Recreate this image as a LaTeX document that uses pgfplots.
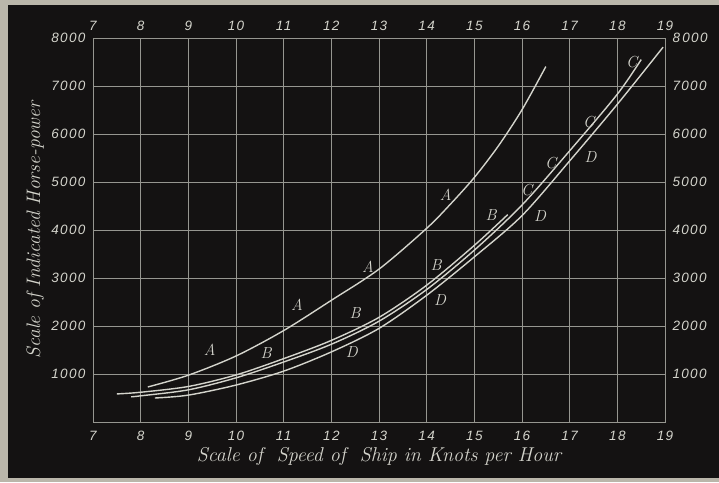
\documentclass[border=0pt]{standalone}
\usepackage{fontspec}
\usepackage{pgfplots}
\pgfplotsset{compat=1.18}
\newfontfamily\tickfont{Liberation Sans}[LetterSpace=10]
\definecolor{page}{RGB}{186,182,170}
\definecolor{board}{RGB}{20,18,18}
\definecolor{chalk}{RGB}{212,212,204}
\definecolor{gridc}{RGB}{150,150,144}
\newcommand{\tfont}{\tickfont\itshape\fontsize{13.5}{15}\selectfont}
\newcommand{\xlfont}{\itshape\fontsize{20}{22}\selectfont}
\newcommand{\ylfont}{\itshape\fontsize{19.5}{22}\selectfont}
\newcommand{\cfont}{\itshape\fontsize{16}{18}\selectfont}
\begin{document}
\begin{tikzpicture}[x=1pt,y=1pt]
\fill[page] (0,0) rectangle (719,482);
\path[use as bounding box] (0,0) rectangle (719,482);
\fill[board] (8,4) rectangle (719,477);
\begin{axis}[
  at={(93pt,60pt)}, anchor=south west,
  scale only axis, width=572pt, height=384pt,
  xmin=7, xmax=19, ymin=0, ymax=8000,
  xtick={7,8,9,10,11,12,13,14,15,16,17,18,19},
  xticklabels={7,8,9,10,11,12,13,14,15,16,17,18,19},
  ytick={1000,2000,3000,4000,5000,6000,7000,8000},
  yticklabels={1000,2000,3000,4000,5000,6000,7000,8000},
  major tick length=0pt,
  grid=major, major grid style={gridc, line width=0.8pt},
  axis line style={gridc, line width=0.9pt},
  /pgf/number format/assume math mode=true,
  tick label style={font=\tfont, text=chalk},
  xticklabel style={yshift=-6pt},
  yticklabel style={xshift=-4pt},
  xlabel={Scale of \ Speed of \ Ship in Knots per Hour},
  ylabel={Scale of Indicated Horse-power},
  xlabel style={font=\xlfont, text=chalk, at={(axis description cs:0.5,0)}, anchor=center, yshift=-34pt},
  ylabel style={font=\ylfont, text=chalk, at={(axis description cs:-0.101,0.5)}, anchor=center},
  clip=false,
]
% Curve A
\addplot[chalk, line width=1.4pt, smooth] coordinates {
 (8.15,730) (9,975) (10,1375) (11,1905) (12,2535) (13,3185) (14,4035) (14.5,4540) (15,5095) (15.5,5745) (16,6505) (16.5,7405)};
% Curve B
\addplot[chalk, line width=1.4pt, smooth] coordinates {
 (7.5,585) (8,620) (9,740) (10,980) (11,1320) (12,1700) (13,2180) (14,2850) (15,3680) (15.7,4320)};
% Curve C
\addplot[chalk, line width=1.4pt, smooth] coordinates {
 (7.8,525) (8,545) (9,670) (10,920) (11,1250) (12,1620) (13,2100) (14,2760) (15,3580) (16,4520) (17,5650) (18,6830) (18.5,7550)};
% Curve D
\addplot[chalk, line width=1.4pt, smooth] coordinates {
 (8.3,500) (9,560) (10,770) (11,1060) (12,1460) (13,1950) (14,2640) (15,3440) (16,4300) (17,5440) (18,6620) (18.96,7810)};
% curve letters
\begin{scope}[every node/.style={font=\cfont, text=chalk}]
\node at (axis cs:9.45,1500) {A};
\node at (axis cs:11.28,2440) {A};
\node at (axis cs:12.77,3230) {A};
\node at (axis cs:14.4,4730) {A};
\node at (axis cs:10.63,1440) {B};
\node at (axis cs:12.5,2270) {B};
\node at (axis cs:14.2,3270) {B};
\node at (axis cs:15.35,4310) {B};
\node at (axis cs:16.1,4830) {C};
\node at (axis cs:16.6,5400) {C};
\node at (axis cs:17.4,6250) {C};
\node at (axis cs:18.3,7500) {C};
\node at (axis cs:12.43,1460) {D};
\node at (axis cs:14.28,2540) {D};
\node at (axis cs:16.38,4290) {D};
\node at (axis cs:17.44,5520) {D};
\end{scope}
\end{axis}
\begin{axis}[
  at={(93pt,60pt)}, anchor=south west,
  scale only axis, width=572pt, height=384pt,
  xmin=7, xmax=19, ymin=0, ymax=8000,
  xtick={7,8,9,10,11,12,13,14,15,16,17,18,19},
  xticklabels={7,8,9,10,11,12,13,14,15,16,17,18,19},
  ytick={1000,2000,3000,4000,5000,6000,7000,8000},
  yticklabels={1000,2000,3000,4000,5000,6000,7000,8\,000},
  xticklabel pos=upper, yticklabel pos=right,
  major tick length=0pt,
  axis line style={draw=none},
  /pgf/number format/assume math mode=true,
  tick label style={font=\tfont, text=chalk},
  xticklabel style={yshift=4pt},
  yticklabel style={xshift=4pt},
]
\addplot[draw=none] coordinates {(7,0) (19,8000)};
\end{axis}
\end{tikzpicture}
\end{document}
